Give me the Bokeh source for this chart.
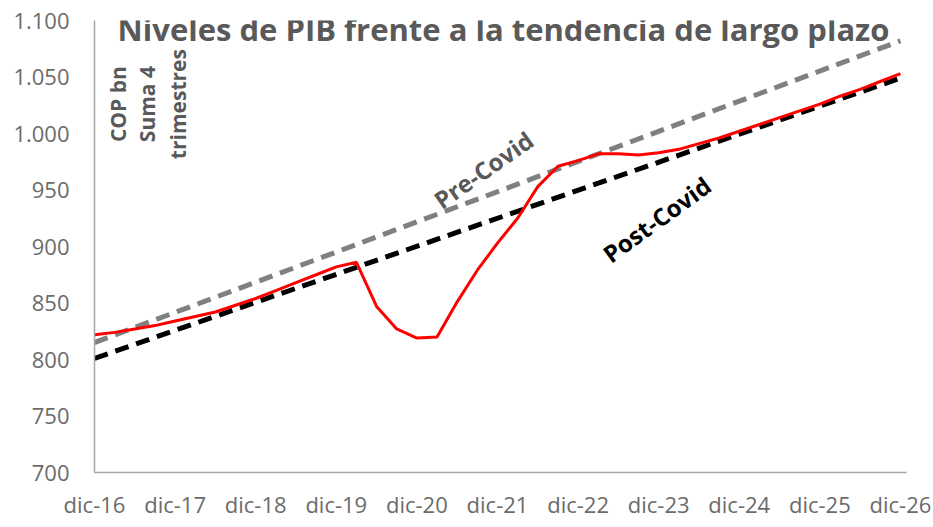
from bokeh.plotting import figure
from bokeh.models import Range1d, FixedTicker, Label
from bokeh.embed import file_html
from bokeh.resources import INLINE

# Quarterly GDP, 4-quarter rolling sum (COP bn), dic-16 .. dic-26
gdp = [822, 824, 827, 830, 834, 838, 842, 848, 854, 861, 868, 875, 882, 886,
       847, 827, 819, 820, 851, 879, 903, 925, 953, 971, 976, 982, 982, 981,
       983, 986, 991, 996, 1002, 1008, 1014, 1020, 1026, 1033, 1039, 1046, 1053]

# Trend lines (start dic-16, end dic-26)
trend_x = [0, 40]
pre_covid = [815, 1082]
post_covid = [801, 1049]

x_tick_pos = [0, 4, 8, 12, 16, 20, 24, 28, 32, 36, 40]
x_tick_labels = ["dic-16", "dic-17", "dic-18", "dic-19", "dic-20", "dic-21",
                 "dic-22", "dic-23", "dic-24", "dic-25", "dic-26"]
y_ticks = [700, 750, 800, 850, 900, 950, 1000, 1050, 1100]
y_tick_labels = ["700", "750", "800", "850", "900", "950", "1.000", "1.050", "1.100"]

FONT = "Open Sans"
TXT = "#595959"

p = figure(width=933, height=527, output_backend="svg", toolbar_location=None,
           x_range=Range1d(0, 40.3), y_range=Range1d(700, 1100),
           min_border_left=94, min_border_right=27, min_border_top=20,
           min_border_bottom=55)
p.outline_line_color = None
p.xgrid.visible = False
p.ygrid.visible = False
p.background_fill_color = "white"
p.border_fill_color = "white"

p.line(trend_x, pre_covid, line_color="#808080", line_width=5, line_dash="14 8")
p.line(trend_x, post_covid, line_color="black", line_width=5, line_dash="14 8")
p.line(list(range(len(gdp))), gdp, line_color="#ff0000", line_width=3)

for ax in (p.xaxis[0], p.yaxis[0]):
    ax.axis_line_color = "#a6a6a6"
    ax.axis_line_width = 1.5
    ax.major_tick_line_color = None
    ax.minor_tick_line_color = None
    ax.major_tick_out = 0
    ax.major_tick_in = 0
    ax.minor_tick_out = 0
    ax.minor_tick_in = 0
    ax.major_label_text_font = FONT
    ax.major_label_text_font_size = "22px"
    ax.major_label_text_color = "#6b6b6b"

p.xaxis.ticker = FixedTicker(ticks=x_tick_pos)
p.xaxis.major_label_overrides = dict(zip(x_tick_pos, x_tick_labels))
p.xaxis.major_label_standoff = 16
p.yaxis.ticker = FixedTicker(ticks=y_ticks)
p.yaxis.major_label_overrides = dict(zip(y_ticks, y_tick_labels))
p.yaxis.major_label_standoff = 25

p.add_layout(Label(x=20.3, y=1092.9, text="Niveles de PIB frente a la tendencia de largo plazo",
                   text_align="center", text_baseline="middle", text_font=FONT,
                   text_font_size="31px", text_font_style="bold", text_color=TXT))

for xx, t in [(1.19, "COP bn"), (2.63, "Suma 4"), (4.12, "trimestres")]:
    p.add_layout(Label(x=xx, y=1026, text=t, angle=90, angle_units="deg",
                       text_align="center", text_baseline="middle", text_font=FONT,
                       text_font_size="21px", text_font_style="bold", text_color=TXT))

p.add_layout(Label(x=19.3, y=968, text="Pre-Covid", angle=35, angle_units="deg",
                   text_align="center", text_baseline="middle", text_font=FONT,
                   text_font_size="24px", text_font_style="bold", text_color=TXT))
p.add_layout(Label(x=27.9, y=924, text="Post-Covid", angle=36, angle_units="deg",
                   text_align="center", text_baseline="middle", text_font=FONT,
                   text_font_size="24px", text_font_style="bold", text_color="black"))

open("out.html", "w").write(file_html(p, INLINE))
